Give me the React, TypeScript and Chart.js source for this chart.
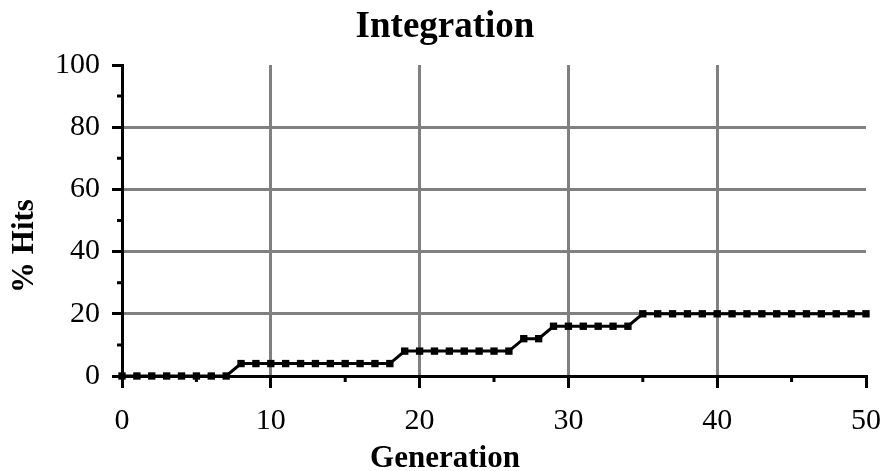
import React, { useEffect, useRef } from "react";
import { Chart, registerables } from "chart.js";

Chart.register(...registerables);

const generations: number[] = [
  0, 1, 2, 3, 4, 5, 6, 7, 8, 9, 10, 11, 12, 13, 14, 15, 16, 17, 18, 19, 20,
  21, 22, 23, 24, 25, 26, 27, 28, 29, 30, 31, 32, 33, 34, 35, 36, 37, 38, 39,
  40, 41, 42, 43, 44, 45, 46, 47, 48, 49, 50,
];

const hits: number[] = [
  0, 0, 0, 0, 0, 0, 0, 0,
  4, 4, 4, 4, 4, 4, 4, 4, 4, 4, 4,
  8, 8, 8, 8, 8, 8, 8, 8,
  12, 12,
  16, 16, 16, 16, 16, 16,
  20, 20, 20, 20, 20, 20, 20, 20, 20, 20, 20, 20, 20, 20, 20, 20,
];

const xMinorTicks: number[] = [5, 15, 25, 35, 45];
const yMinorTicks: number[] = [10, 30, 50, 70, 90];

const TITLE = "Integration";
const X_TITLE = "Generation";
const Y_TITLE = "% Hits";

const FONT = "'Liberation Serif', 'Times New Roman', serif";
const GRID = "#808080";

const minorTicksPlugin = {
  id: "minorTicks",
  afterDraw(chart: any) {
    const { ctx, chartArea, scales } = chart;
    ctx.save();
    ctx.strokeStyle = "#000";
    ctx.lineWidth = 3;
    ctx.beginPath();
    for (const v of xMinorTicks) {
      const px = scales.x.getPixelForValue(v);
      ctx.moveTo(px, chartArea.bottom);
      ctx.lineTo(px, chartArea.bottom + 6);
    }
    for (const v of yMinorTicks) {
      const py = scales.y.getPixelForValue(v);
      ctx.moveTo(chartArea.left - 5, py);
      ctx.lineTo(chartArea.left, py);
    }
    ctx.stroke();
    ctx.restore();
  },
};

const yTitlePlugin = {
  id: "yTitle",
  afterDraw(chart: any) {
    const { ctx } = chart;
    ctx.save();
    ctx.translate(24.5, 246);
    ctx.rotate(-Math.PI / 2);
    ctx.font = `bold 31px ${FONT}`;
    ctx.fillStyle = "#000";
    ctx.textAlign = "center";
    ctx.textBaseline = "middle";
    ctx.fillText(Y_TITLE, 0, 0);
    ctx.restore();
  },
};

export default function App() {
  const canvasRef = useRef<HTMLCanvasElement | null>(null);

  useEffect(() => {
    if (!canvasRef.current) return;
    const points = generations.map((g, i) => ({ x: g, y: hits[i] }));
    const chart = new Chart(canvasRef.current, {
      type: "line",
      data: {
        datasets: [
          {
            data: points,
            borderColor: "#000",
            borderWidth: 3,
            pointStyle: "rect",
            pointRadius: 5.2,
            pointBorderWidth: 0,
            pointBackgroundColor: "#000",
            tension: 0,
            clip: false as any,
          },
        ],
      },
      options: {
        animation: false,
        responsive: false,
        devicePixelRatio: 1,
        layout: { padding: { left: 24, right: 16, top: 0, bottom: 0 } },
        plugins: {
          legend: { display: false },
          tooltip: { enabled: false },
          title: {
            display: true,
            text: TITLE,
            color: "#000",
            font: { family: FONT, size: 37, weight: "bold" },
            padding: { top: 5, bottom: 15.6 },
          },
          subtitle: {
            display: true,
            position: "bottom",
            text: X_TITLE,
            color: "#000",
            font: { family: FONT, size: 31, weight: "bold" },
            padding: { top: 0, bottom: -6.5 },
          },
        },
        scales: {
          x: {
            type: "linear",
            min: 0,
            max: 50,
            afterFit: (s: any) => {
              s.height = 64.3;
              s.paddingLeft = 0;
              s.paddingRight = 0;
            },
            ticks: {
              stepSize: 10,
              autoSkip: false,
              maxRotation: 0,
              color: "#000",
              padding: 15,
              font: { family: FONT, size: 30 },
            },
            grid: {
              color: (c: any) =>
                c.tick && c.tick.value > 0 && c.tick.value < 50 ? GRID : "rgba(0,0,0,0)",
              lineWidth: 3,
              tickColor: "#000",
              tickWidth: 3,
              tickLength: 12,
            },
            border: { display: true, color: "#000", width: 3 },
          },
          y: {
            type: "linear",
            min: 0,
            max: 100,
            afterFit: (s: any) => {
              s.width = 98;
              s.paddingTop = 0;
              s.paddingBottom = 0;
            },
            ticks: {
              stepSize: 20,
              autoSkip: false,
              color: "#000",
              padding: 12,
              font: { family: FONT, size: 30 },
            },
            grid: {
              color: (c: any) =>
                c.tick && c.tick.value > 0 && c.tick.value < 100 ? GRID : "rgba(0,0,0,0)",
              lineWidth: 3,
              tickColor: "#000",
              tickWidth: 3,
              tickLength: 10,
            },
            border: { display: true, color: "#000", width: 3 },
          },
        },
      },
      plugins: [minorTicksPlugin, yTitlePlugin],
    });
    return () => chart.destroy();
  }, []);

  return (
    <div style={{ position: "absolute", left: 0, top: 0, width: 882, height: 471 }}>
      <canvas ref={canvasRef} width={882} height={471} style={{ display: "block" }} />
    </div>
  );
}
